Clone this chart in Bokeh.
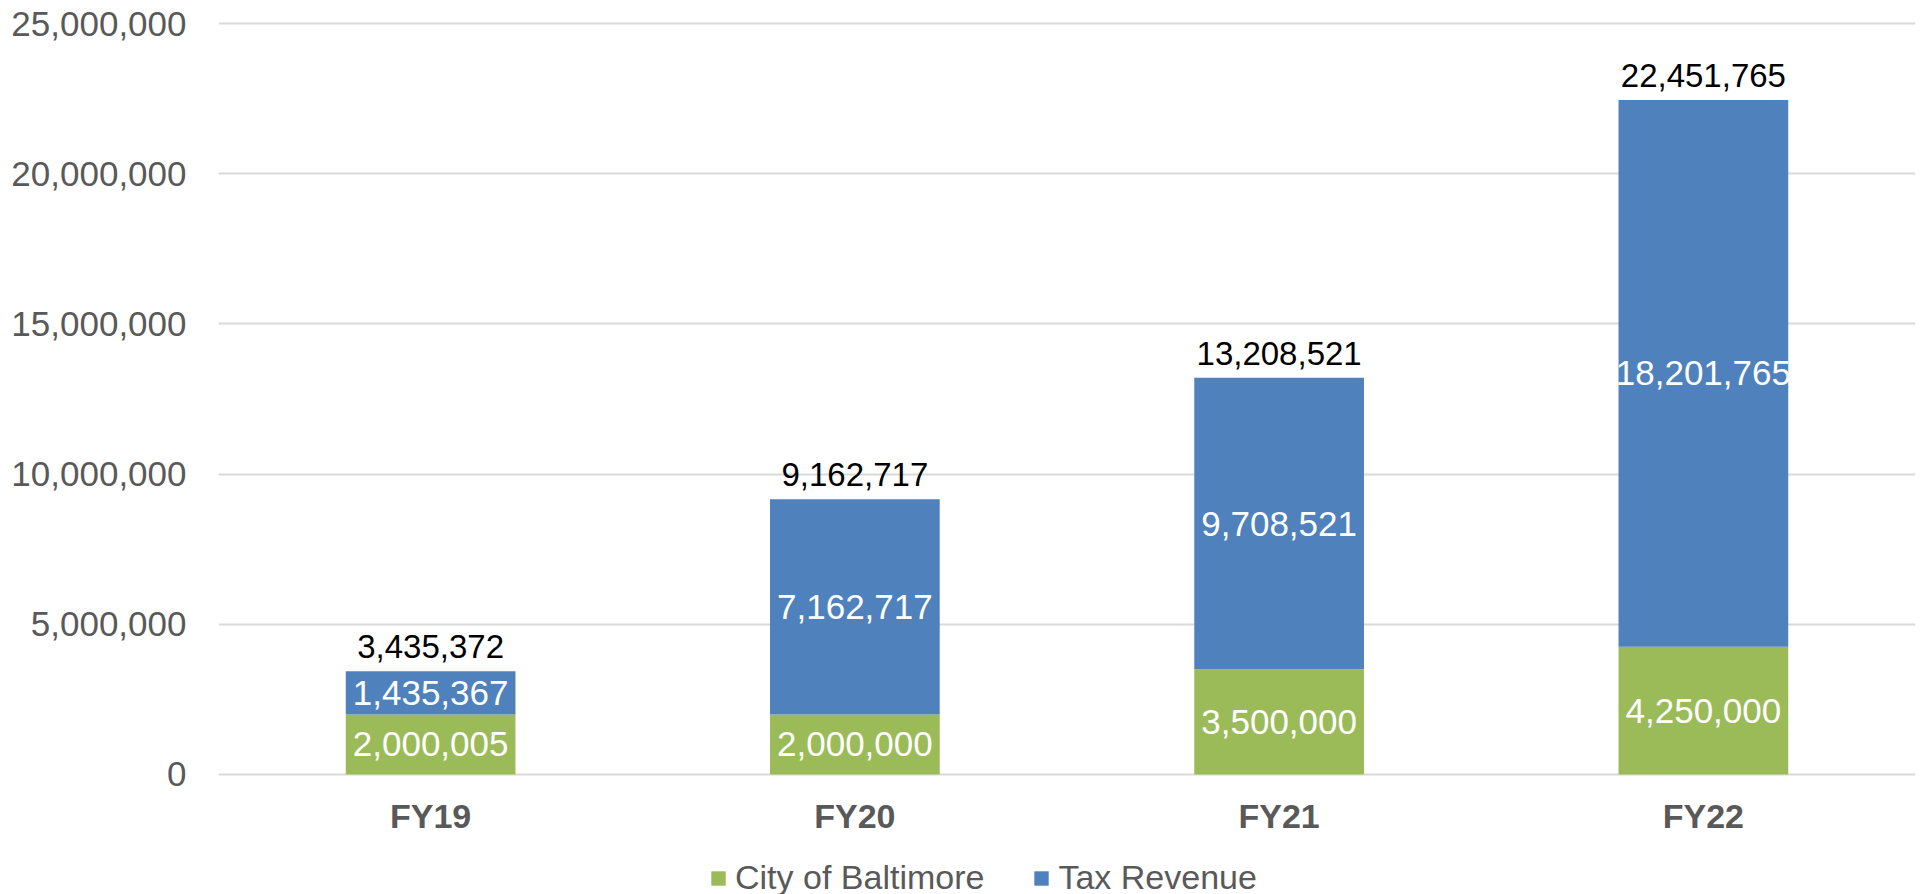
from bokeh.plotting import figure
from bokeh.layouts import column
from bokeh.models import (ColumnDataSource, FactorRange, Range1d, FixedTicker,
                          NumeralTickFormatter, Legend, LegendItem, LabelSet)
from bokeh.core.properties import value
from bokeh.embed import file_html
from bokeh.resources import INLINE

# ---- data ----
years = ["FY19", "FY20", "FY21", "FY22"]
city = [2000005, 2000000, 3500000, 4250000]
tax = [1435367, 7162717, 9708521, 18201765]
y_ticks = [0, 5000000, 10000000, 15000000, 20000000, 25000000]
series_names = ["City of Baltimore", "Tax Revenue"]

GREEN = "#9BBB59"
BLUE = "#4F81BD"
GREY = "#595959"
FONT = "Liberation Sans"

totals = [c + t for c, t in zip(city, tax)]
src = ColumnDataSource(dict(
    fy=years, city=city, tax=tax, total=totals,
    city_mid=[c / 2 for c in city],
    tax_mid=[c + t / 2 for c, t in zip(city, tax)],
    city_txt=[f"{v:,}" for v in city],
    tax_txt=[f"{v:,}" for v in tax],
    total_txt=[f"{v:,}" for v in totals],
))

p = figure(frame_width=1697, frame_height=757, output_backend="svg",
           toolbar_location=None,
           x_range=FactorRange(*years, range_padding=0),
           y_range=Range1d(-100000, 25100000),
           min_border_left=218, min_border_right=8, min_border_top=20,
           min_border_bottom=57)
p.outline_line_color = None
p.background_fill_color = "white"
p.border_fill_color = "white"

r = p.vbar_stack(["city", "tax"], x="fy", width=0.4, source=src,
                 color=[GREEN, BLUE], line_color=None)

# axes
p.yaxis.ticker = FixedTicker(ticks=y_ticks)
p.yaxis.formatter = NumeralTickFormatter(format="0,0")
p.yaxis.axis_line_color = None
p.yaxis.major_tick_line_color = None
p.yaxis.minor_tick_line_color = None
p.yaxis.major_label_text_font = FONT
p.yaxis.major_label_text_font_size = "35px"
p.yaxis.major_label_text_color = GREY
p.yaxis.major_label_standoff = 26

p.xaxis.axis_line_color = None
p.xaxis.major_tick_line_color = None
p.xaxis.major_label_text_font = FONT
p.xaxis.major_label_text_font_size = "34px"
p.xaxis.major_label_text_font_style = "bold"
p.xaxis.major_label_text_color = GREY
p.xaxis.major_label_standoff = 13

p.xgrid.grid_line_color = None
p.ygrid.ticker = FixedTicker(ticks=y_ticks)
p.ygrid.grid_line_color = "#D9D9D9"
p.ygrid.grid_line_width = 2

# labels
common = dict(source=src, x="fy", text_font=value(FONT), text_align="center")
p.add_layout(LabelSet(y="city_mid", text="city_txt", text_color="white",
                      text_font_size="35px", text_baseline="middle", **common))
p.add_layout(LabelSet(y="tax_mid", text="tax_txt", text_color="white",
                      text_font_size="35px", text_baseline="middle", **common))
p.add_layout(LabelSet(y="total", text="total_txt", text_color="black",
                      text_font_size="33px", text_baseline="alphabetic",
                      y_offset=13, **common))

# legend in its own strip below the chart
lg = figure(frame_width=1697, frame_height=60, output_backend="svg",
            toolbar_location=None, x_range=Range1d(0, 1), y_range=Range1d(0, 1),
            min_border_left=218, min_border_right=8, min_border_top=0,
            min_border_bottom=0)
lg.axis.visible = False
lg.grid.visible = False
lg.outline_line_color = None
lg.border_fill_color = "white"
lr1 = lg.vbar(x=[0.5], top=[0], bottom=[0], width=0.0, color=GREEN, line_color=None)
lr2 = lg.vbar(x=[0.5], top=[0], bottom=[0], width=0.0, color=BLUE, line_color=None)
legend = Legend(items=[LegendItem(label=series_names[0], renderers=[lr1]),
                       LegendItem(label=series_names[1], renderers=[lr2])],
                orientation="horizontal", location=(491, 0),
                label_text_font=FONT, label_text_font_size="34px",
                label_text_color=GREY, glyph_width=18, glyph_height=18,
                label_standoff=8, spacing=48, padding=0, margin=0,
                border_line_color=None, background_fill_alpha=0)
lg.add_layout(legend, "center")

layout = column(p, lg, spacing=0)
open("out.html", "w").write(file_html(layout, INLINE))
